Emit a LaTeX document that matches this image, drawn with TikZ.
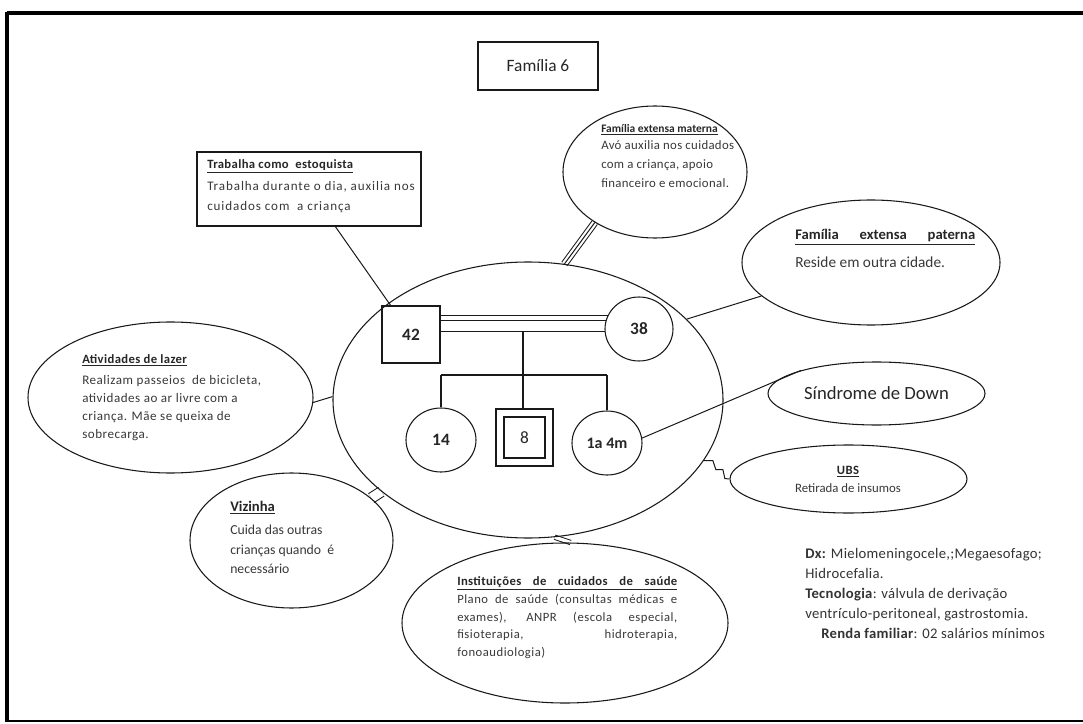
\documentclass[tikz,border=0pt]{standalone}
\usepackage{fontspec}
\setmainfont{Carlito}
\usetikzlibrary{shapes.geometric}
\pgfdeclarelayer{bg}
\pgfsetlayers{bg,main}
\begin{document}
\begin{tikzpicture}[x=0.75pt,y=-0.75pt]
\tikzset{
  ln/.style={line width=0.75pt, draw=black!90},
  thk/.style={line width=1.2pt, draw=black!90},
  ell/.style={ellipse, draw=black!90, line width=0.8pt, inner sep=0pt},
  box/.style={rectangle, draw=black!90, line width=0.8pt, inner sep=0pt},
  body/.style={font=\fontsize{9.8}{13.5}\selectfont\addfontfeatures{LetterSpace=4}, text=black!78, align=left, inner sep=0pt, anchor=north west},
  ttl/.style={font=\fontsize{9.5}{11}\selectfont\bfseries\addfontfeatures{LetterSpace=3}, text=black!85, inner sep=0pt, anchor=west},
  num/.style={font=\fontsize{13}{15}\selectfont\bfseries, text=black!85},
}
\useasboundingbox (0,0) rectangle (1083,724);
% frame
\draw[line width=3pt] (7,13) -- (1092,13);
\draw[line width=3.5pt] (7,12) -- (7,722);
\draw[line width=1.5pt] (7,721) -- (1092,721);

% title
\node[box, minimum width=90pt, minimum height=36pt, font=\fontsize{13}{15}\selectfont, text=black!85] (fam) at (538,66) {Família 6};

% central family
\node[ell, minimum width=292.5pt, minimum height=207pt] (main) at (528,400) {};
\node[box, minimum width=43.5pt, minimum height=42.75pt, num] (b42) at (411,334.5) {42};
\node[ell, minimum width=51pt, minimum height=48pt, num] (c38) at (639,329) {38};
\node[ell, minimum width=52.5pt, minimum height=48pt, num] (c14) at (441,440) {14};
\node[box, minimum size=42.75pt] (b8) at (524.5,437.5) {};
\node[box, minimum size=30.75pt, font=\fontsize{13}{15}\selectfont, text=black!85] (b8i) at (b8) {8};
\node[ell, minimum width=52.5pt, minimum height=48pt, font=\fontsize{12}{14}\selectfont\bfseries, text=black!85] (c1a) at (607,443) {1a 4m};

\draw[ln] (b42.east |- c38.157) -- (c38.157);
\draw[ln] (b42.east |- c38.166) -- (c38.166);
\draw[thk] (b42.east |- c38.184) -- (c38.184);
\coordinate (m) at (523,331.4);
\coordinate (sib) at (523,375);
\draw[thk] (m) -- (sib);
\draw[thk] (c14 |- sib) -- (c1a |- sib);
\draw[thk] (c14 |- sib) -- (c14.north);
\draw[thk] (sib) -- (sib |- b8.north);
\draw[thk] (c1a |- sib) -- (c1a.north);

% work box
\node[box, minimum width=168pt, minimum height=55.5pt] (trab) at (309,189) {};
\node[ttl] (trabT) at (207,166) {\underline{Trabalha como \ estoquista}};
\node[body, font=\fontsize{9.8}{15}\selectfont\addfontfeatures{LetterSpace=7}] (trabB) at (207,181) {Trabalha durante o dia, auxilia nos\\cuidados com \ a criança};

% materna
\node[ell, minimum width=138pt, minimum height=99pt] (mat) at (655,172) {};
\node[ttl, font=\fontsize{8.6}{11}\selectfont\bfseries] (matT) at (601,130) {\underline{Família extensa materna}};
\node[body, font=\fontsize{9.6}{14.25}\selectfont\addfontfeatures{LetterSpace=2.5}] (matB) at (601,140) {Avó auxilia nos cuidados\\com a criança, apoio\\financeiro e emocional.};

% paterna
\node[ell, minimum width=193.5pt, minimum height=93.75pt] (pat) at (871,262.5) {};
\node[ttl, font=\fontsize{11}{13}\selectfont\bfseries] (patT) at (795,237) {\underline{\makebox[135pt][s]{Família extensa paterna}}};
\node[body, anchor=west, font=\fontsize{11.5}{13}\selectfont] (patB) at (795,262) {Reside em outra cidade.};

% lazer
\node[ell, minimum width=213.75pt, minimum height=113.25pt] (laz) at (170.5,397.5) {};
\node[ttl] (lazT) at (82,360) {\underline{Atividades de lazer}};
\node[body] (lazB) at (82,375) {Realizam passeios \ de bicicleta,\\atividades ao ar livre com a\\criança. Mãe se queixa de\\sobrecarga.};

% vizinha
\node[ell, minimum width=152.25pt, minimum height=101.25pt] (viz) at (291.5,540.5) {};
\node[ttl, font=\fontsize{11}{12}\selectfont\bfseries] (vizT) at (230,508) {\underline{Vizinha}};
\node[body, font=\fontsize{10.3}{14.6}\selectfont] (vizB) at (230,525) {Cuida das outras\\crianças quando \ é\\necessário};

% instituicoes
\node[ell, minimum width=244.5pt, minimum height=120pt] (inst) at (565,623) {};
\node[ttl] (instT) at (457,583) {\underline{\makebox[165pt][s]{Instituições de cuidados de saúde}}};
\node[body, font=\fontsize{9.5}{13.3}\selectfont\addfontfeatures{LetterSpace=4}] (instB) at (457,594) {\makebox[165pt][s]{Plano de saúde (consultas médicas e}\\\makebox[165pt][s]{exames), ANPR (escola especial,}\\\makebox[165pt][s]{fisioterapia, hidroterapia,}\\fonoaudiologia)};

% sindrome
\node[ell, minimum width=162.75pt, minimum height=47.25pt, font=\fontsize{14}{16}\selectfont, text=black!85] (sd) at (876.5,393.5) {Síndrome de Down};

% UBS
\node[ell, minimum width=177.75pt, minimum height=51pt] (ubs) at (848.5,479) {};
\node[ttl, anchor=center] (ubsT) at (848,472) {\underline{UBS}};
\node[body, anchor=center, font=\fontsize{9.6}{12}\selectfont] (ubsB) at (848,488) {Retirada de insumos};

% info
\node[anchor=north west, inner sep=0pt, align=left, font=\fontsize{11}{15}\selectfont\addfontfeatures{LetterSpace=2}, text=black!80] (dx) at (805,548) {\textbf{Dx:} Mielomeningocele,;Megaesofago;\\Hidrocefalia.\\\textbf{Tecnologia}: válvula de derivação\\ventrículo-peritoneal, gastrostomia.\\\hspace*{12pt}\textbf{Renda familiar}: 02 salários mínimos};

% connectors
\begin{pgfonlayer}{bg}
\draw[ln] (trab) -- (b42);
\draw[ln] (laz.-2) -- (main.179);
\draw[ln] (pat.197) -- (main.27);
\draw[ln] (c1a.8) -- (sd.163);
\draw[ln, double, double distance=4pt] (mat.220) -- (main.75);
\draw[ln] (mat.220) -- (main.75);
\draw[ln, double, double distance=7pt] (viz.28) -- (main.212);
\draw[ln, double, double distance=2.5pt] (inst.86) -- (main.281);
\draw[ln] (main.341) -- ++(9,0) -- ++(3,9) -- ++(7,0) -- ++(2,9) -- (ubs.west);
\end{pgfonlayer}
\end{tikzpicture}
\end{document}
